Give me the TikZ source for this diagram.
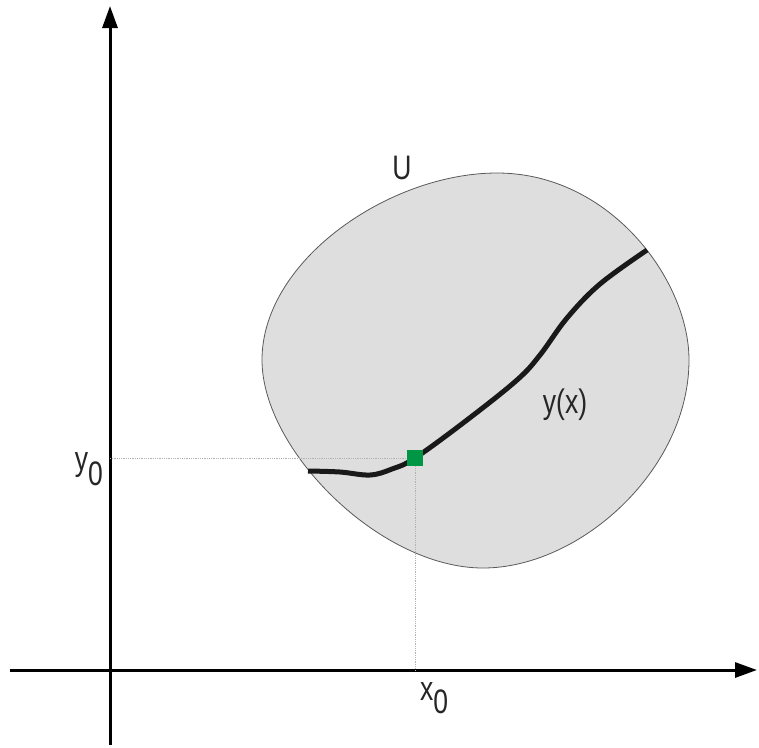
\documentclass[tikz,border=0pt]{standalone}
\usepackage{fontspec}
\newfontfamily\labfont[FakeStretch=0.78]{Liberation Sans}
\usetikzlibrary{arrows.meta}
\definecolor{blobfill}{RGB}{222,222,222}
\definecolor{ptgreen}{RGB}{0,150,70}
\begin{document}
\begin{tikzpicture}[x=1pt,y=-1pt,
  axis/.style={line width=3pt,black,-{Triangle[length=22pt,width=15pt]}},
  guide/.style={densely dotted,gray!60,line width=0.8pt},
  lab/.style={font=\labfont\fontsize{34}{40}\selectfont,inner sep=0pt,text=black!85}]
\useasboundingbox (0,0) rectangle (759,747);
% region U
\filldraw[fill=blobfill,draw=gray!70!black,line width=0.8pt]
  (497,173) .. controls (610,173) and (689,280) .. (689,360)
  .. controls (689,470) and (580,568) .. (483,568)
  .. controls (380,568) and (262,450) .. (262,360)
  .. controls (262,260) and (390,173) .. (497,173) -- cycle;
% axes
\coordinate (xs) at (10,670);
\coordinate (xe) at (757,670);
\coordinate (ys) at (110,745);
\coordinate (ye) at (110,6);
\draw[axis] (xs) -- (xe);
\draw[axis] (ys) -- (ye);
% point
\node[fill=ptgreen,minimum size=16pt,inner sep=0pt] (p) at (415,458) {};
\coordinate (py) at (110,458);
\coordinate (px) at (415,670);
\draw[guide] (py) -- (p.west);
\draw[guide] (p.south) -- (px);
% curve
\draw[line width=5pt,black!90] plot[smooth,tension=0.6] coordinates {
  (308,471) (340,472) (370,475) (392,469) (415,458) (467,420) (517,380)
  (540,355) (567,318) (600,284) (647,250)};
\node[fill=ptgreen,minimum size=16pt,inner sep=0pt] at (p) {};
% labels
\node[lab] (lu) at (402,168) {U};
\node[lab] (ly) at (565,405) {y(x)};
\node[lab,anchor=base east] (ly0) at (103,470) {y\raisebox{-0.45em}{0}};
\node[lab,anchor=base west] (lx0) at (420,700) {x\raisebox{-0.4em}{0}};
\end{tikzpicture}
\end{document}
